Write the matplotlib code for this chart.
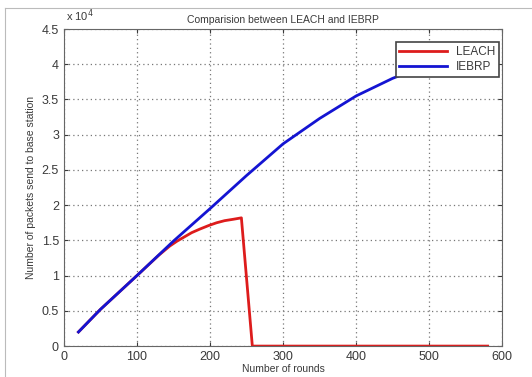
import matplotlib.pyplot as plt
from matplotlib.lines import Line2D

plt.rcParams['font.family'] = ['Liberation Sans', 'DejaVu Sans']

# rounds / packets
leach_rounds = [20, 50, 100, 130, 145, 155, 165, 175, 186, 198, 209, 220, 232, 243, 258, 580]
leach_packets = [2000, 5200, 10000, 12900, 14200, 14900, 15500, 16100, 16600, 17100, 17500, 17800, 18000, 18200, 0, 0]
iebrp_rounds = [20, 50, 100, 150, 200, 250, 300, 350, 400, 450, 500, 550, 580]
iebrp_packets = [2000, 5200, 10000, 14900, 19500, 24200, 28700, 32300, 35500, 38000, 40000, 41500, 42200]

fig = plt.figure(figsize=(5.32, 3.77), dpi=100)
ax = fig.add_axes([0.120, 0.082, 0.824, 0.841])

txt = '#3a3a3a'
ax.plot(leach_rounds, leach_packets, color='#dd1c1c', lw=2, label='LEACH')
ax.plot(iebrp_rounds, iebrp_packets, color='#1414d2', lw=2, label='IEBRP')

ax.set_xlim(0, 600)
ax.set_ylim(0, 45000)
ax.set_xticks(range(0, 601, 100))
ax.set_yticks([i * 5000 for i in range(10)])
ax.set_yticklabels(['0', '0.5', '1', '1.5', '2', '2.5', '3', '3.5', '4', '4.5'])
ax.tick_params(direction='in', labelsize=9, colors=txt, length=3, top=True, right=True)
ax.grid(True, linestyle=(0, (1, 2.5)), color='#777777', lw=0.9)
for s in ax.spines.values():
    s.set_color('#666666')

ax.set_title('Comparision between LEACH and IEBRP', fontsize=7.5, color=txt, pad=4)
ax.set_xlabel('Number of rounds', fontsize=7.5, color=txt, labelpad=1)
ax.set_ylabel('Number of packets send to base station', fontsize=7.5, color=txt, labelpad=4)
fig.text(0.125, 0.945, r'x 10$^4$', fontsize=8, color=txt)

leg = ax.legend(loc='upper right', bbox_to_anchor=(1.006, 0.977), fontsize=8.5,
                fancybox=False, framealpha=1, edgecolor='#444444',
                handlelength=4, borderpad=0.3, labelspacing=0.3)
leg.get_frame().set_linewidth(1.2)
for t in leg.get_texts():
    t.set_color(txt)

# thin frame of the screenshot
fig.add_artist(Line2D([0.010, 1.0], [0.979, 0.979], color='#bbbbbb', lw=0.8))
fig.add_artist(Line2D([0.010, 0.010], [0.0, 0.979], color='#bbbbbb', lw=0.8))

fig.savefig('out.png', dpi=100)
